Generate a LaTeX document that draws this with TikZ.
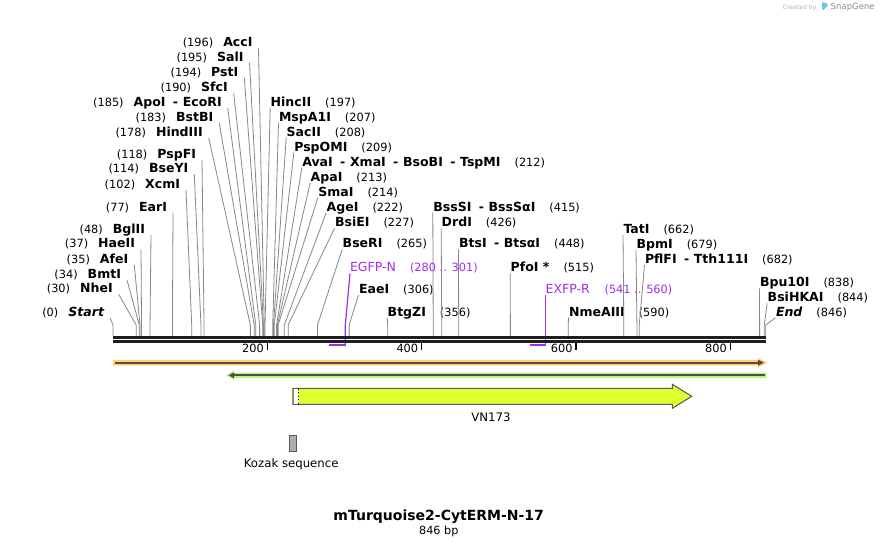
\documentclass[tikz,border=0pt]{standalone}
\usepackage{fontspec}
\setmainfont{DejaVu Sans}[ItalicFont={DejaVu Sans Oblique},BoldFont={DejaVu Sans Bold},BoldItalicFont={DejaVu Sans Bold Oblique}]
\usetikzlibrary{calc}
\definecolor{cutgray}{RGB}{135,135,135}
\definecolor{primerpurple}{RGB}{160,45,240}
\definecolor{seqblack}{RGB}{30,30,30}
\definecolor{orangeband}{RGB}{255,208,130}
\definecolor{orangeline}{RGB}{90,74,56}
\definecolor{greenband}{RGB}{188,240,140}
\definecolor{greenline}{RGB}{70,85,65}
\definecolor{featyellow}{RGB}{224,255,46}
\definecolor{featedge}{RGB}{90,90,90}
\definecolor{kozakgray}{RGB}{170,174,181}
\definecolor{sgblue}{RGB}{110,195,240}
\newcommand\numf{\fontsize{8.5pt}{10pt}\selectfont}
\newcommand\namef{\fontsize{9.4pt}{11pt}\selectfont\bfseries}
\newcommand\dsh{\hspace{5.5pt}-\hspace{3.5pt}}
\tikzset{
  lbl/.style={inner sep=0pt,outer sep=0pt},
  cutline/.style={draw=cutgray,line width=0.6pt},
  primerline/.style={draw=primerpurple,line width=0.9pt},
}
\newcommand\Lft[6]{%
  \node[lbl,anchor=base east] (n#1) at (#4,#5+4.5) {{\numf #2}\hspace{7.5pt}{\namef #3}};
  \coordinate (k#1) at ({113+0.7716*#6},336);
  \coordinate (b#1) at ({113+0.7716*#6},325);
  \draw[cutline] ($(n#1.base east)+(6,1.5)$) -- (b#1) -- (k#1);
}
\newcommand\Rgt[6]{%
  \node[lbl,anchor=base west] (n#1) at (#4,#5+4.5) {{\namef #2}\hspace{10.5pt}{\numf #3}};
  \coordinate (k#1) at ({113+0.7716*#6},336);
  \coordinate (b#1) at ({113+0.7716*#6},325);
  \draw[cutline] ($(n#1.base west)+(-0.5,1.5)$) -- (b#1) -- (k#1);
}
\begin{document}
\begin{tikzpicture}[x=0.75pt,y=-0.75pt]
\useasboundingbox (0,0) rectangle (880,546);
\fill[white] (0,0) rectangle (880,546);

% watermark
\node[lbl,anchor=base west,text=black!30] (cb) at (782.7,9.5) {\fontsize{4.6pt}{5pt}\selectfont Created by};
\fill[sgblue,rounded corners=0.8pt] (822,2) -- (827.5,3.5) -- (827.5,7) -- (824.5,8) -- (824.5,10) -- (822,10) -- cycle;
\node[lbl,anchor=base west,text=black!45] (sg) at (830.7,9.5) {\fontsize{6.4pt}{7pt}\selectfont SnapGene};

% left labels
\Lft{AccI}{(196)}{AccI}{252.5}{42.3}{196}
\Lft{SalI}{(195)}{SalI}{243.5}{56.7}{195}
\Lft{PstI}{(194)}{PstI}{238.3}{71.7}{194}
\Lft{SfcI}{(190)}{SfcI}{227.7}{87.3}{190}
\Lft{EcoRI}{(185)}{ApoI\dsh EcoRI}{221.7}{101.7}{185}
\Lft{BstBI}{(183)}{BstBI}{213.3}{117.3}{183}
\Lft{HindIII}{(178)}{HindIII}{202.7}{131.7}{178}
\Lft{PspFI}{(118)}{PspFI}{196}{154}{118}
\Lft{BseYI}{(114)}{BseYI}{188.3}{168.3}{114}
\Lft{XcmI}{(102)}{XcmI}{180}{184}{102}
\Lft{EarI}{(77)}{EarI}{167}{206.7}{77}
\Lft{BglII}{(48)}{BglII}{145}{229}{48}
\Lft{HaeII}{(37)}{HaeII}{135}{243.3}{37}
\Lft{AfeI}{(35)}{AfeI}{128.3}{259}{35}
\Lft{BmtI}{(34)}{BmtI}{121}{274}{34}
\Lft{NheI}{(30)}{NheI}{112.7}{288.3}{30}
\Lft{Start}{(0)}{\itshape Start}{104}{311.7}{0}

% right labels
\Rgt{HincII}{HincII}{(197)}{270.7}{101.7}{197}
\Rgt{MspAI}{MspA1I}{(207)}{279}{116.7}{207}
\Rgt{SacII}{SacII}{(208)}{286.7}{131.7}{208}
\Rgt{PspOMI}{PspOMI}{(209)}{294.3}{146.7}{209}
\Rgt{AvaI}{AvaI\dsh XmaI\dsh BsoBI\dsh TspMI}{(212)}{302.3}{161.7}{212}
\Rgt{ApaI}{ApaI}{(213)}{310.7}{176.7}{213}
\Rgt{SmaI}{SmaI}{(214)}{318.3}{191.7}{214}
\Rgt{AgeI}{AgeI}{(222)}{326.7}{206.7}{222}
\Rgt{BsiEI}{BsiEI}{(227)}{335}{222.3}{227}
\Rgt{BseRI}{BseRI}{(265)}{342.7}{243.3}{265}
\Rgt{EaeI}{EaeI}{(306)}{359}{289}{306}
\Rgt{BtgZI}{BtgZI}{(356)}{387.7}{311.7}{356}
\Rgt{BssSI}{BssSI\dsh BssSαI}{(415)}{433.3}{206.7}{415}
\Rgt{DrdI}{DrdI}{(426)}{441.7}{222.3}{426}
\Rgt{BtsI}{BtsI\dsh BtsαI}{(448)}{459}{243.3}{448}
\Rgt{PfoI}{PfoI *}{(515)}{510.7}{267.3}{515}
\Rgt{NmeAIII}{NmeAIII}{(590)}{569}{311.7}{590}
\Rgt{TatI}{TatI}{(662)}{623.5}{229}{662}
\Rgt{BpmI}{BpmI}{(679)}{636.5}{244}{679}
\Rgt{PflFI}{PflFI\dsh Tth111I}{(682)}{645}{259}{682}
\Rgt{Bpu}{Bpu10I}{(838)}{760}{282.3}{838}
\Rgt{BsiHKAI}{BsiHKAI}{(844)}{767.7}{297.3}{844}
\Rgt{End}{\itshape End}{(846)}{776}{311.7}{846}

% primers
\node[lbl,anchor=base west,text=primerpurple] (nEGFP) at (350,271.8) {{\fontsize{9.4pt}{11pt}\selectfont EGFP-N}\hspace{10.5pt}{\numf (280 .. 301)}};
\coordinate (bEGFP) at (345.3,325);
\coordinate (kEGFP) at (345.3,346);
\coordinate (sEGFP) at (329,345.2);
\draw[primerline] ($(nEGFP.base west)+(0,1.5)$) -- (bEGFP) -- (kEGFP);
\draw[primerpurple,line width=1.5pt] (sEGFP) -- (kEGFP |- sEGFP);

\node[lbl,anchor=base west,text=primerpurple] (nEXFP) at (545.7,293.5) {{\fontsize{9.4pt}{11pt}\selectfont EXFP-R}\hspace{11pt}{\numf (541 .. 560)}};
\coordinate (kEXFP) at (545.5,346);
\coordinate (sEXFP) at (530,345.2);
\draw[primerline] ($(nEXFP.base west)+(-0.2,1.5)$) -- (kEXFP);
\draw[primerpurple,line width=1.5pt] (sEXFP) -- (kEXFP |- sEXFP);

% sequence line
\coordinate (s0) at (113,337.3);
\coordinate (s1) at (766,337.3);
\draw[seqblack,line width=2.2pt] (s0) -- (s1);
\draw[seqblack,line width=1.8pt] ($(s0)+(0,4.3)$) -- ($(s1)+(0,4.3)$);

% ticks
\foreach \t in {200,400,600,800}{
  \draw[black,line width=1.1pt] ({113+0.7716*\t},342.5) -- ({113+0.7716*\t},349.5);
  \node[lbl,anchor=base east] (tk\t) at ({113+0.7716*\t-3.5},352.8) {\numf \t};
}

% orange forward line
\fill[orangeband] (113,359.8) -- (758,359.8) -- (758,357.8) -- (767,362.7) -- (758,367.6) -- (758,365.6) -- (113,365.6) -- cycle;
\draw[orangeline,line width=1.5pt] (115,362.7) -- (759,362.7);
\fill[orangeline] (758,359.7) -- (764,362.7) -- (758,365.7) -- cycle;

% green reverse line
\fill[greenband] (766.7,372.5) -- (234,372.5) -- (234,370.6) -- (226,375.3) -- (234,380) -- (234,378.2) -- (766.7,378.2) -- cycle;
\draw[greenline,line width=1.5pt] (233,375.3) -- (764.5,375.3);
\fill[greenline] (234,372.4) -- (228.5,375.3) -- (234,378.2) -- cycle;

% VN173 feature
\filldraw[fill=featyellow,draw=featedge,line width=0.8pt] (293,388.3) -- (672.3,388.3) -- (672.3,384.3) -- (691.7,396.3) -- (672.3,408.3) -- (672.3,404.3) -- (293,404.3) -- cycle;
\fill[white] (293.5,388.8) rectangle (298,403.8);
\draw[black,dotted,line width=0.6pt] (298.3,388.8) -- (298.3,403.8);
\node[lbl] (vn) at (491,417) {\fontsize{8.8pt}{10pt}\selectfont VN173};

% Kozak
\filldraw[fill=kozakgray,draw=featedge,line width=0.8pt] (289.3,435.3) rectangle (296.7,451.3);
\node[lbl] (kz) at (291.2,464.3) {\fontsize{8.8pt}{10pt}\selectfont Kozak sequence};

% title
\node[lbl] (title) at (438.7,516.3) {\fontsize{10.5pt}{12pt}\selectfont\bfseries mTurquoise2-CytERM-N-17};
\node[lbl] (len) at (438.8,531) {\fontsize{8.4pt}{10pt}\selectfont 846 bp};
\end{tikzpicture}
\end{document}
